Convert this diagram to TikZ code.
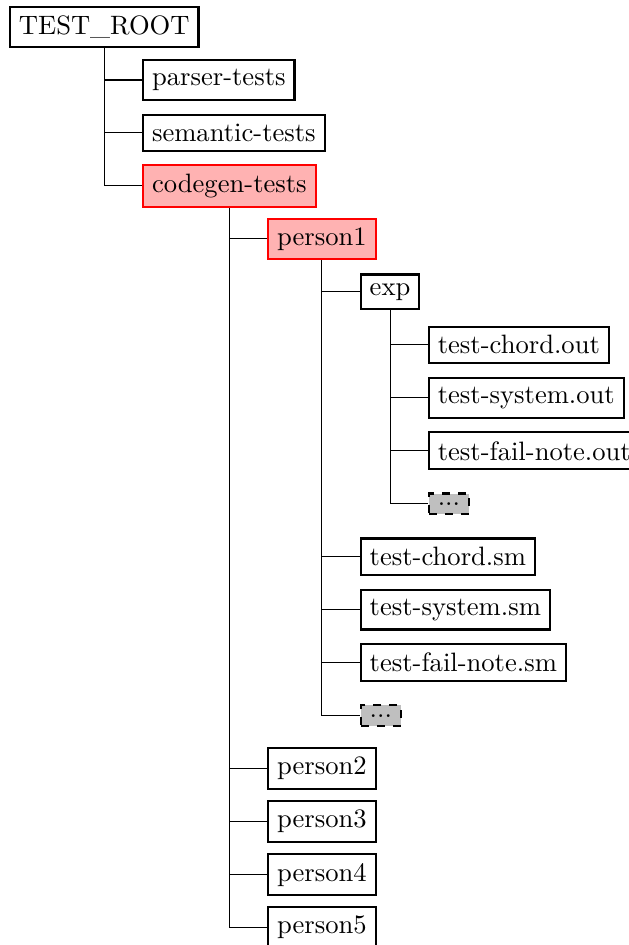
\documentclass[tikz,border=0pt]{standalone}
\usetikzlibrary{calc}

\begin{document}
\begin{tikzpicture}[
		% Style for the directory boxes
		dir/.style={draw=black, thick, anchor=west},
		% Highlighted path down to person1
		hl-dir/.style={dir, draw=red, fill=red!30},
		% Placeholder for omitted entries
		etc-box/.style={dir, dashed, fill=gray!50},
		% Style for the tree lines
		branch/.style={draw=black}
		]
		\useasboundingbox (-0.119,0.357) rectangle (8.19,-12.13);
		
		% LEVEL 0 and 1
		\node[dir] (root) at (0,0) {TEST\_ROOT};
		\node[dir] (parser) at ($(root.south |- 0,-0.7)+(0.5,0)$) {parser-tests};
		\node[dir] (semantic) at ($(root.south |- 0,-1.4)+(0.5,0)$) {semantic-tests};
		\node[hl-dir] (codegen) at ($(root.south |- 0,-2.1)+(0.5,0)$) {codegen-tests};
		
		% LEVEL 2: person1 and its contents
		\node[hl-dir] (person1) at ($(codegen.south |- 0,-2.8)+(0.5,0)$) {person1};
		\node[dir] (exp) at ($(person1.south |- 0,-3.5)+(0.5,0)$) {exp};
		\node[dir] (chord-out) at ($(exp.south |- 0,-4.2)+(0.5,0)$) {test-chord.out};
		\node[dir] (system-out) at ($(exp.south |- 0,-4.9)+(0.5,0)$) {test-system.out};
		\node[dir] (fail-out) at ($(exp.south |- 0,-5.6)+(0.5,0)$) {test-fail-note.out};
		\node[etc-box] (exp-etc) at ($(exp.south |- 0,-6.3)+(0.5,0)$) {...};
		\node[dir] (chord-sm) at ($(person1.south |- 0,-7.0)+(0.5,0)$) {test-chord.sm};
		\node[dir] (system-sm) at ($(person1.south |- 0,-7.7)+(0.5,0)$) {test-system.sm};
		\node[dir] (fail-sm) at ($(person1.south |- 0,-8.4)+(0.5,0)$) {test-fail-note.sm};
		\node[etc-box] (person1-etc) at ($(person1.south |- 0,-9.1)+(0.5,0)$) {...};
		
		% LEVEL 2: the other persons
		\node[dir] (person2) at ($(codegen.south |- 0,-9.8)+(0.5,0)$) {person2};
		\node[dir] (person3) at ($(codegen.south |- 0,-10.5)+(0.5,0)$) {person3};
		\node[dir] (person4) at ($(codegen.south |- 0,-11.2)+(0.5,0)$) {person4};
		\node[dir] (person5) at ($(codegen.south |- 0,-11.9)+(0.5,0)$) {person5};
		
		% Tree lines, parent south to child west
		\draw[branch] (root.south) |- (parser.west)
			(root.south) |- (semantic.west)
			(root.south) |- (codegen.west);
		\draw[branch] (codegen.south) |- (person1.west)
			(codegen.south) |- (person2.west)
			(codegen.south) |- (person3.west)
			(codegen.south) |- (person4.west)
			(codegen.south) |- (person5.west);
		\draw[branch] (person1.south) |- (exp.west)
			(person1.south) |- (chord-sm.west)
			(person1.south) |- (system-sm.west)
			(person1.south) |- (fail-sm.west)
			(person1.south) |- (person1-etc.west);
		\draw[branch] (exp.south) |- (chord-out.west)
			(exp.south) |- (system-out.west)
			(exp.south) |- (fail-out.west)
			(exp.south) |- (exp-etc.west);
	\end{tikzpicture}
\end{document}
